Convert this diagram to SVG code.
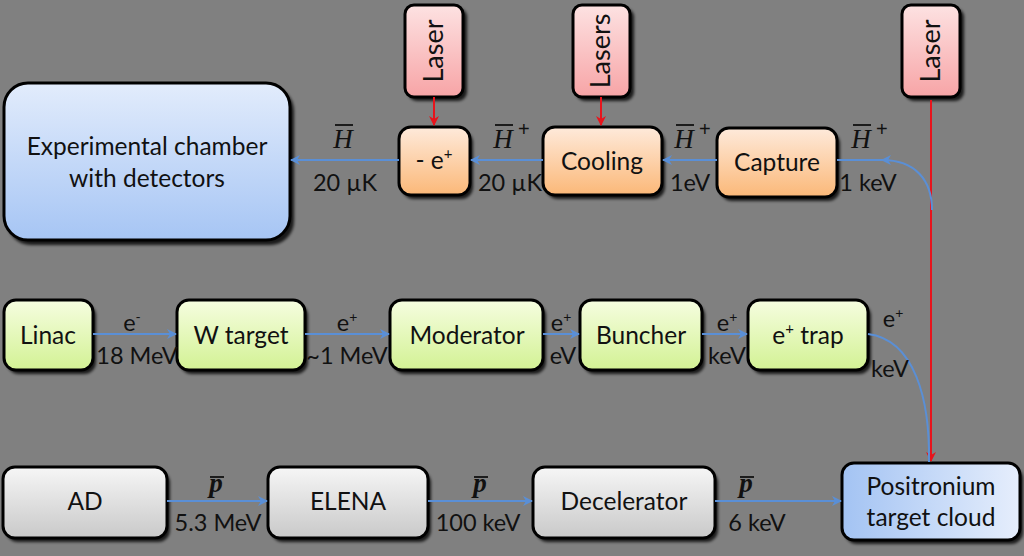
<svg xmlns="http://www.w3.org/2000/svg" width="1024" height="556" viewBox="0 0 1024 556">
<defs>
<linearGradient id="gBlue" x1="0" y1="0" x2="0" y2="1"><stop offset="0" stop-color="#e2ecfc"/><stop offset="1" stop-color="#a6c5f4"/></linearGradient>
<linearGradient id="gBlueH" x1="0" y1="0" x2="1" y2="0"><stop offset="0" stop-color="#a3c3f3"/><stop offset="1" stop-color="#e6eefc"/></linearGradient>
<linearGradient id="gOrange" x1="0" y1="0" x2="0" y2="1"><stop offset="0" stop-color="#feeadb"/><stop offset="1" stop-color="#fbb878"/></linearGradient>
<linearGradient id="gGreen" x1="0" y1="0" x2="0" y2="1"><stop offset="0" stop-color="#f6fde0"/><stop offset="1" stop-color="#d3f294"/></linearGradient>
<linearGradient id="gRed" x1="0" y1="0" x2="0" y2="1"><stop offset="0" stop-color="#fde2e2"/><stop offset="1" stop-color="#f7a4a6"/></linearGradient>
<linearGradient id="gGray" x1="0" y1="0" x2="0" y2="1"><stop offset="0" stop-color="#f6f6f6"/><stop offset="1" stop-color="#c9c9c9"/></linearGradient>
<filter id="sh" x="-10%" y="-10%" width="130%" height="130%"><feGaussianBlur stdDeviation="1.5"/></filter>
<marker id="aBlue" viewBox="0 0 10 10" refX="9" refY="5" markerWidth="5" markerHeight="5" orient="auto-start-reverse"><path d="M0,0 L10,5 L0,10 L3,5 Z" fill="#5a8fd6"/></marker>
<marker id="aRed" viewBox="0 0 10 10" refX="9" refY="5" markerWidth="5" markerHeight="5" orient="auto"><path d="M0,0 L10,5 L0,10 L3,5 Z" fill="#e8141c"/></marker>
</defs>
<style>
.node{stroke:#000;stroke-width:3}
.shadow{fill:#000;opacity:0.8;filter:url(#sh)}
.t{font-family:Lato,"Open Sans",sans-serif;font-size:24.5px;fill:#111;text-anchor:middle}
.lz{font-family:Lato,"Open Sans",sans-serif;font-size:27px;fill:#111;text-anchor:middle}
.lbl{font-family:Lato,"Open Sans",sans-serif;font-size:23.5px;fill:#111;text-anchor:middle}
.m{font-family:"Liberation Serif",serif;font-style:italic;font-size:27px;fill:#111;text-anchor:middle}
.sup{font-family:"Liberation Sans",sans-serif;font-size:20px;fill:#111}
.bar{stroke:#111;stroke-width:1.8}
.cb{fill:none;stroke:#5a8fd6;stroke-width:2}
.cr{fill:none;stroke:#e8141c;stroke-width:2}
</style>
<rect width="1024" height="556" fill="#808080"/>

<g id="chamber"><rect class="shadow" x="7" y="87" width="287" height="158" rx="24"/><rect class="node" x="4" y="83" width="286" height="157" rx="24" fill="url(#gBlue)"/><text class="t" x="147" y="155">Experimental chamber</text><text class="t" x="147" y="187">with detectors</text></g>

<g id="laser1"><rect class="shadow" x="408" y="8" width="59" height="93" rx="9"/><rect class="node" x="405" y="5" width="58" height="92" rx="9" fill="url(#gRed)"/><text class="lz" transform="translate(443,51) rotate(-90)">Laser</text></g>
<g id="laser2"><rect class="shadow" x="576" y="8" width="58" height="93" rx="9"/><rect class="node" x="573" y="5" width="57" height="92" rx="9" fill="url(#gRed)"/><text class="lz" transform="translate(610,51) rotate(-90)">Lasers</text></g>
<g id="laser3"><rect class="shadow" x="905" y="8" width="59" height="93" rx="9"/><rect class="node" x="902" y="5" width="58" height="92" rx="9" fill="url(#gRed)"/><text class="lz" transform="translate(940,51) rotate(-90)">Laser</text></g>

<g id="remove"><rect class="shadow" x="402" y="131" width="71" height="68" rx="12"/><rect class="node" x="399" y="127" width="71" height="68" rx="12" fill="url(#gOrange)"/><text class="t" x="434" y="169">- e<tspan font-size="15" dy="-10">+</tspan></text></g>
<g id="cooling"><rect class="shadow" x="546" y="131" width="119" height="68" rx="12"/><rect class="node" x="543" y="127" width="119" height="68" rx="12" fill="url(#gOrange)"/><text class="t" x="602" y="170">Cooling</text></g>
<g id="capture"><rect class="shadow" x="720" y="132" width="120" height="69" rx="12"/><rect class="node" x="717" y="128" width="120" height="69" rx="12" fill="url(#gOrange)"/><text class="t" x="777" y="171">Capture</text></g>

<g id="linac"><rect class="shadow" x="7" y="304" width="89" height="70" rx="12"/><rect class="node" x="4" y="300" width="89" height="70" rx="12" fill="url(#gGreen)"/><text class="t" x="48" y="344">Linac</text></g>
<g id="wtarget"><rect class="shadow" x="180" y="304" width="128" height="70" rx="12"/><rect class="node" x="177" y="300" width="128" height="70" rx="12" fill="url(#gGreen)"/><text class="t" x="241" y="344">W target</text></g>
<g id="moderator"><rect class="shadow" x="393" y="304" width="153" height="70" rx="12"/><rect class="node" x="390" y="300" width="153" height="70" rx="12" fill="url(#gGreen)"/><text class="t" x="467" y="344">Moderator</text></g>
<g id="buncher"><rect class="shadow" x="583" y="304" width="122" height="70" rx="12"/><rect class="node" x="580" y="300" width="122" height="70" rx="12" fill="url(#gGreen)"/><text class="t" x="641" y="344">Buncher</text></g>
<g id="trap"><rect class="shadow" x="751" y="304" width="120" height="70" rx="12"/><rect class="node" x="748" y="300" width="120" height="70" rx="12" fill="url(#gGreen)"/><text class="t" x="808" y="344">e<tspan font-size="15" dy="-10">+</tspan><tspan dy="10"> trap</tspan></text></g>

<g id="ad"><rect class="shadow" x="6" y="471" width="164" height="71" rx="12"/><rect class="node" x="3" y="467" width="164" height="71" rx="12" fill="url(#gGray)"/><text class="t" x="85" y="510">AD</text></g>
<g id="elena"><rect class="shadow" x="271" y="471" width="160" height="71" rx="12"/><rect class="node" x="268" y="467" width="160" height="71" rx="12" fill="url(#gGray)"/><text class="t" x="348" y="510">ELENA</text></g>
<g id="decelerator"><rect class="shadow" x="536" y="471" width="182" height="71" rx="12"/><rect class="node" x="533" y="467" width="182" height="71" rx="12" fill="url(#gGray)"/><text class="t" x="624" y="510">Decelerator</text></g>
<g id="positronium"><rect class="shadow" x="845" y="467" width="178" height="77" rx="12"/><rect class="node" x="842" y="463" width="178" height="77" rx="12" fill="url(#gBlueH)"/><text class="t" x="931" y="495">Positronium</text><text class="t" x="931" y="526">target cloud</text></g>

<g id="connectors">
<line class="cr" x1="434" y1="97" x2="434" y2="125" marker-end="url(#aRed)"/>
<line class="cr" x1="601" y1="97" x2="601" y2="125" marker-end="url(#aRed)"/>
<line class="cr" x1="931" y1="100" x2="931" y2="461" marker-end="url(#aRed)"/>
<line class="cb" x1="399" y1="160" x2="291" y2="160" marker-end="url(#aBlue)"/>
<line class="cb" x1="543" y1="160" x2="471" y2="160" marker-end="url(#aBlue)"/>
<line class="cb" x1="717" y1="160" x2="663" y2="160" marker-end="url(#aBlue)"/>
<path class="cb" d="M932,210 C932,180 915,160 882,160" marker-end="url(#aBlue)"/>
<line class="cb" x1="884" y1="160" x2="837" y2="160"/>
<line class="cb" x1="93" y1="334" x2="176" y2="334" marker-end="url(#aBlue)"/>
<line class="cb" x1="305" y1="334" x2="389" y2="334" marker-end="url(#aBlue)"/>
<line class="cb" x1="543" y1="334" x2="579" y2="334" marker-end="url(#aBlue)"/>
<line class="cb" x1="702" y1="334" x2="747" y2="334" marker-end="url(#aBlue)"/>
<path class="cb" d="M868,334 C915,340 930,400 929,462"/>
<line class="cb" x1="167" y1="501" x2="267" y2="501" marker-end="url(#aBlue)"/>
<line class="cb" x1="428" y1="501" x2="532" y2="501" marker-end="url(#aBlue)"/>
<line class="cb" x1="715" y1="501" x2="841" y2="501" marker-end="url(#aBlue)"/>
</g>

<g id="labels">
<text class="m" x="343" y="148">H</text><line class="bar" x1="335" y1="125" x2="353" y2="125"/>
<text class="lbl" x="345" y="191">20 µK</text>
<text class="m" x="503" y="148">H</text><line class="bar" x1="495" y1="125" x2="513" y2="125"/><text class="sup" x="518" y="136">+</text>
<text class="lbl" x="510" y="191">20 µK</text>
<text class="m" x="684" y="148">H</text><line class="bar" x1="676" y1="125" x2="694" y2="125"/><text class="sup" x="699" y="136">+</text>
<text class="lbl" x="690" y="191">1eV</text>
<text class="m" x="861" y="148">H</text><line class="bar" x1="853" y1="125" x2="871" y2="125"/><text class="sup" x="876" y="136">+</text>
<text class="lbl" x="868" y="191">1 keV</text>

<text class="lbl" x="132" y="331">e<tspan font-size="14" dy="-9">-</tspan></text>
<text class="lbl" x="137" y="364">18 MeV</text>
<text class="lbl" x="347" y="331">e<tspan font-size="14" dy="-9">+</tspan></text>
<text class="lbl" x="347" y="364">~1 MeV</text>
<text class="lbl" x="561" y="331">e<tspan font-size="14" dy="-9">+</tspan></text>
<text class="lbl" x="563" y="364">eV</text>
<text class="lbl" x="727" y="331">e<tspan font-size="14" dy="-9">+</tspan></text>
<text class="lbl" x="727" y="364">keV</text>
<text class="lbl" x="893" y="327">e<tspan font-size="14" dy="-9">+</tspan></text>
<text class="lbl" x="890" y="377">keV</text>

<text class="m" x="216" y="492" font-weight="bold">p</text><line class="bar" x1="210" y1="477" x2="224" y2="477"/>
<text class="lbl" x="218" y="531">5.3 MeV</text>
<text class="m" x="480" y="492" font-weight="bold">p</text><line class="bar" x1="474" y1="477" x2="488" y2="477"/>
<text class="lbl" x="478" y="531">100 keV</text>
<text class="m" x="746" y="492" font-weight="bold">p</text><line class="bar" x1="740" y1="477" x2="754" y2="477"/>
<text class="lbl" x="757" y="531">6 keV</text>
</g>
</svg>
